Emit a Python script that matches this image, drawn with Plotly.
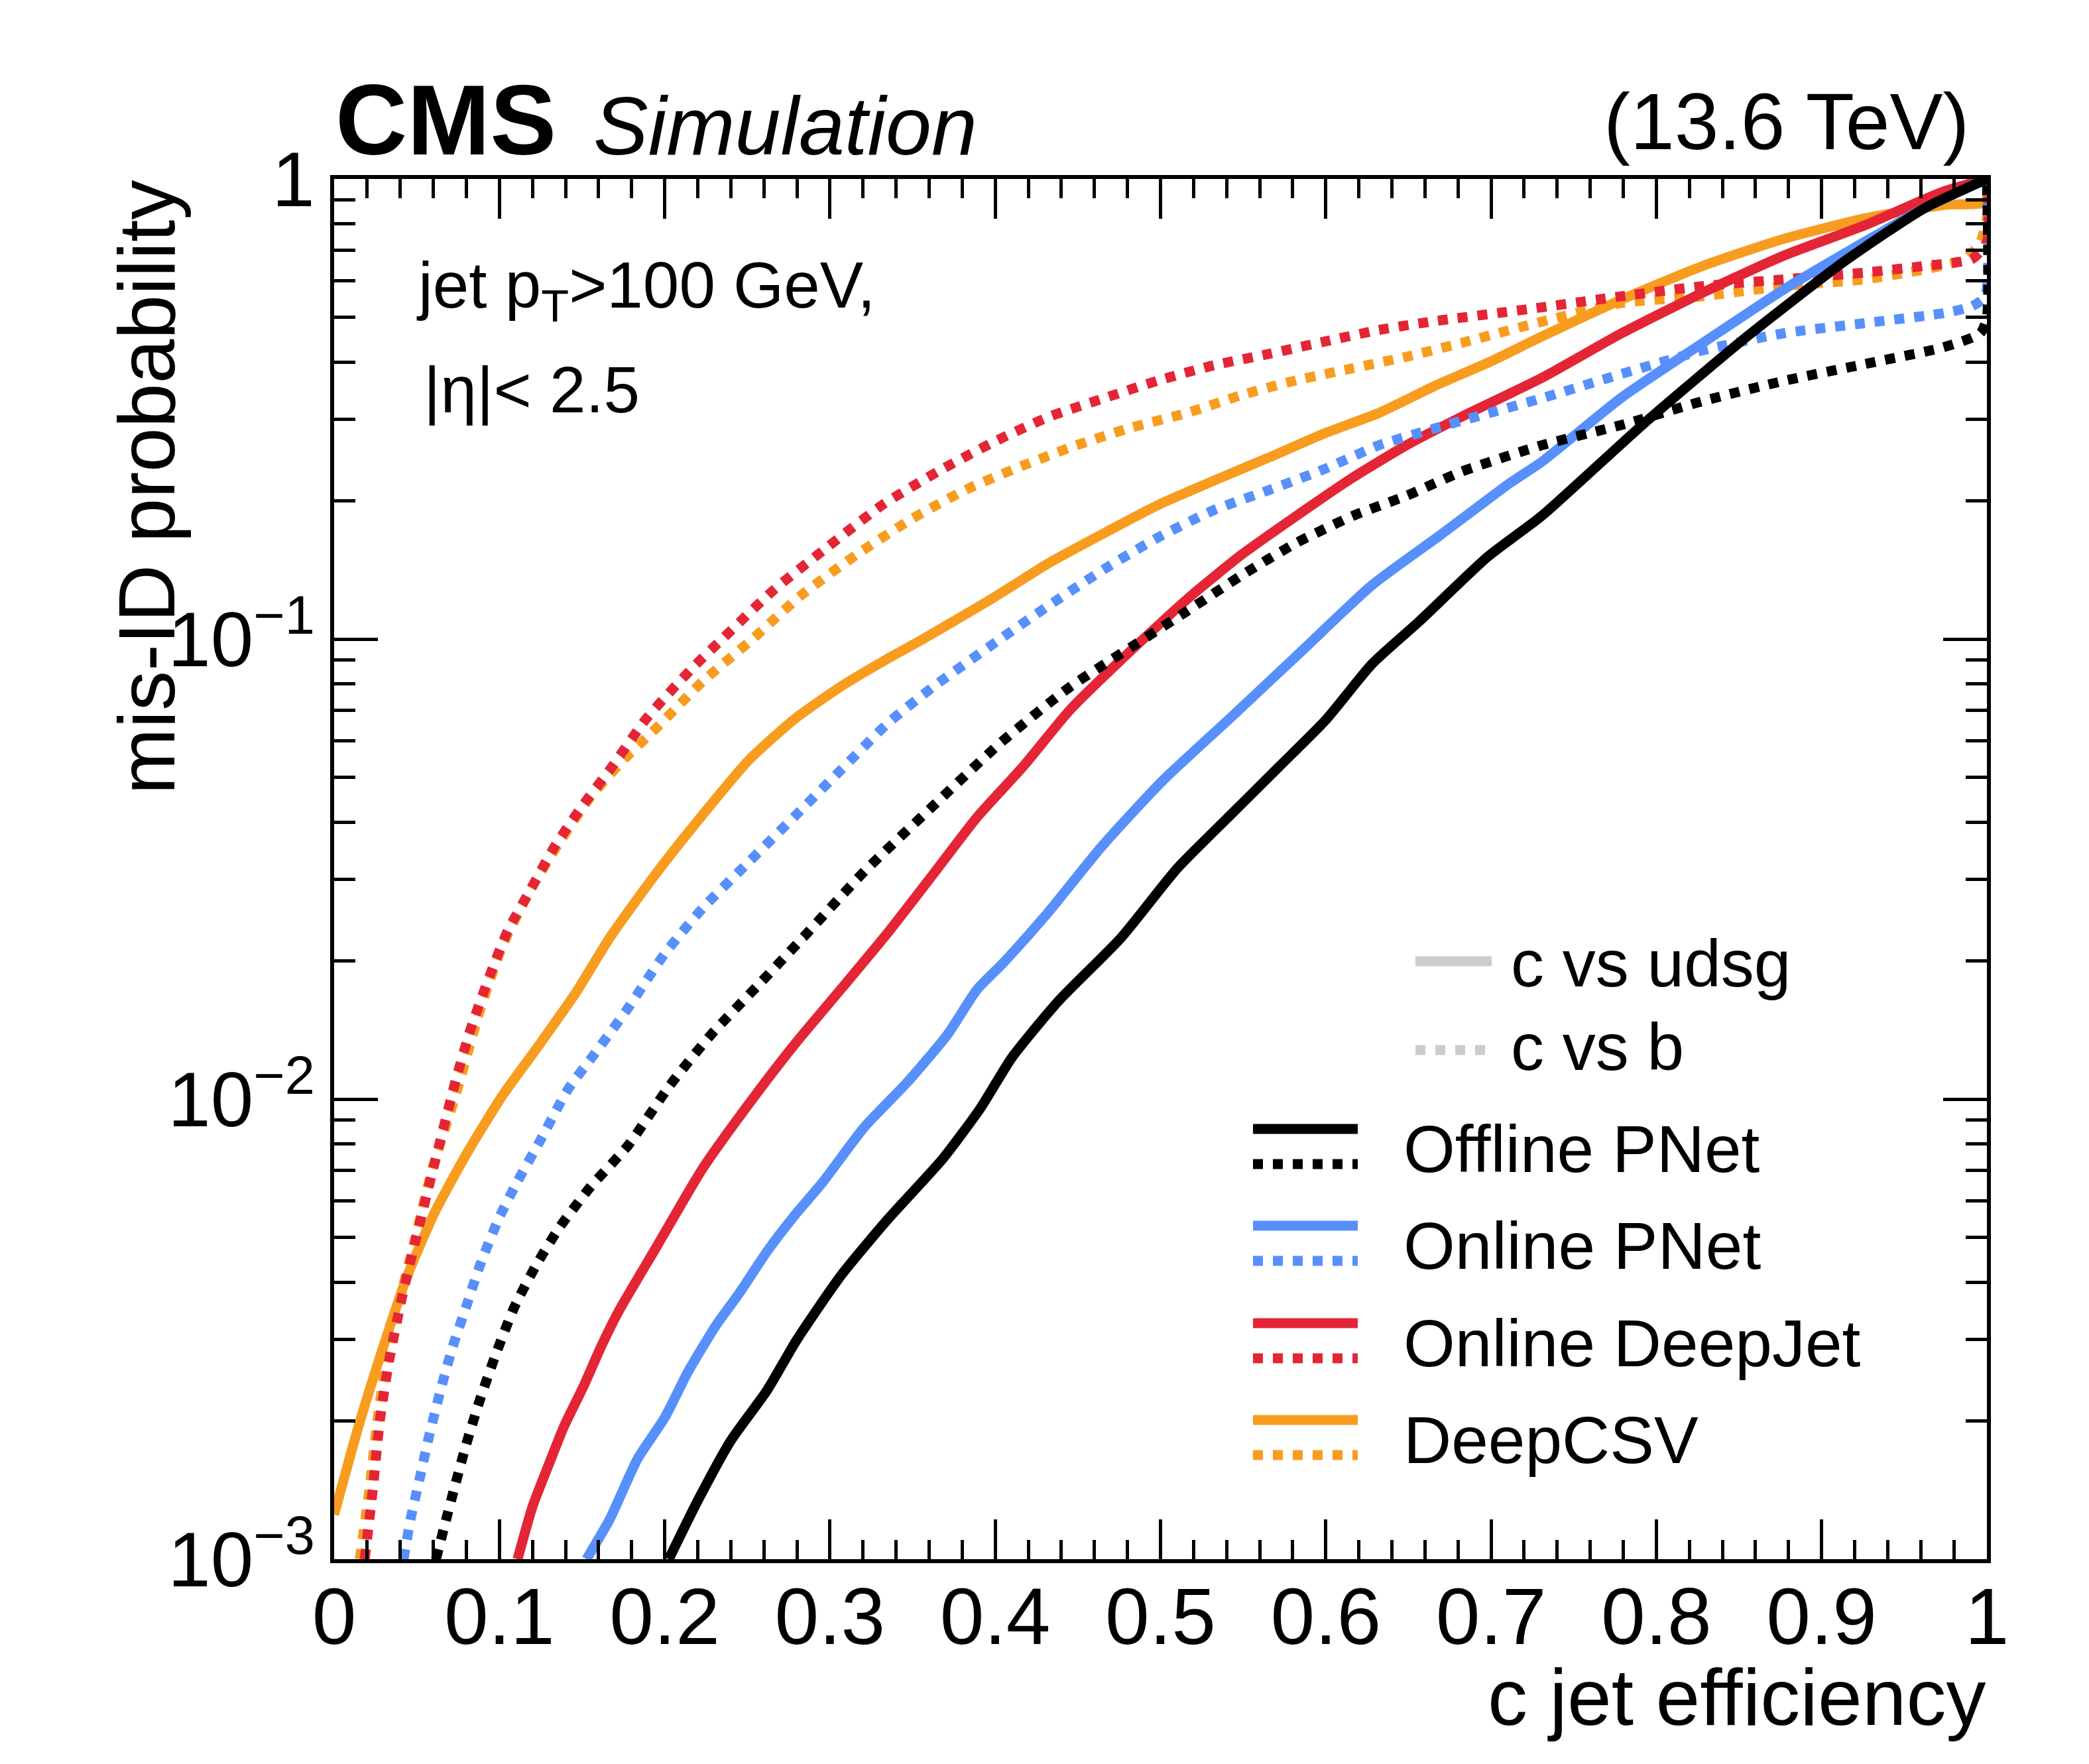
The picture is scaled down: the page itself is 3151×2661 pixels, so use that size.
import plotly.graph_objects as go

# ROC curves: c-jet efficiency vs mis-ID probability
# c vs udsg = solid, c vs b = dotted

# Offline PNet
eff_offline_udsg = [0.2025, 0.22, 0.24, 0.262, 0.28, 0.307, 0.335, 0.368, 0.391, 0.41, 0.438, 0.476, 0.51,
                    0.541, 0.572, 0.600, 0.628, 0.656, 0.698, 0.7305, 0.7915, 0.852, 0.913, 0.962, 1.0]
mis_offline_udsg = [0.001, 0.00134, 0.00181, 0.00233, 0.0030, 0.00415, 0.00548, 0.0074, 0.00955, 0.0123, 0.0163,
                    0.0224, 0.0317, 0.041, 0.0529, 0.0667, 0.0883, 0.1088, 0.151, 0.185, 0.292, 0.446, 0.659,
                    0.863, 1.0]
eff_offline_b = [0.0616, 0.067, 0.0728, 0.0798, 0.0882, 0.098, 0.109, 0.122, 0.136, 0.155, 0.178, 0.203, 0.228,
                 0.256, 0.284, 0.321, 0.361, 0.403, 0.445, 0.486, 0.516, 0.549, 0.582, 0.616, 0.649, 0.682, 0.731,
                 0.779, 0.828, 0.877, 0.926, 0.974, 0.996, 1.0, 1.0]
mis_offline_b = [0.001, 0.00119, 0.00143, 0.00177, 0.00222, 0.0028, 0.00353, 0.00434, 0.00524, 0.00644, 0.00794,
                 0.0107, 0.0138, 0.0176, 0.0225, 0.0313, 0.0429, 0.0594, 0.0786, 0.098, 0.115, 0.1375, 0.1617,
                 0.185, 0.205, 0.231, 0.264, 0.292, 0.329, 0.364, 0.396, 0.431, 0.462, 0.50, 1.0]

# Online PNet
eff_online_udsg = [0.1527, 0.1667, 0.1835, 0.200, 0.214, 0.231, 0.245, 0.262, 0.279, 0.2955, 0.321, 0.347, 0.371,
                   0.389, 0.405, 0.431, 0.465, 0.5015, 0.544, 0.586, 0.628, 0.670, 0.712, 0.7305, 0.779, 0.828,
                   0.877, 0.926, 0.962, 1.0]
mis_online_udsg = [0.001, 0.00122, 0.00165, 0.00203, 0.00255, 0.00322, 0.00378, 0.00467, 0.00561, 0.00659, 0.00871,
                   0.0109, 0.0138, 0.0173, 0.0198, 0.0252, 0.0356, 0.0493, 0.0683, 0.0946, 0.131, 0.169, 0.219,
                   0.2425, 0.335, 0.44, 0.575, 0.73, 0.863, 1.0]
eff_online_b = [0.042, 0.0462, 0.0518, 0.0574, 0.0644, 0.0714, 0.0798, 0.0882, 0.0994, 0.1106, 0.1246, 0.1415,
                0.158, 0.178, 0.200, 0.223, 0.251, 0.279, 0.307, 0.335, 0.363, 0.403, 0.432, 0.466, 0.499, 0.532,
                0.566, 0.599, 0.632, 0.666, 0.699, 0.731, 0.779, 0.828, 0.877, 0.926, 0.974, 0.991, 0.999, 1.0]
mis_online_b = [0.001, 0.00122, 0.0015, 0.00185, 0.00233, 0.00287, 0.00353, 0.00435, 0.00548, 0.00659, 0.00812,
                0.0105, 0.0126, 0.0158, 0.0207, 0.026, 0.0328, 0.0413, 0.0521, 0.0656, 0.079, 0.100, 0.118,
                0.1420, 0.1666, 0.1905, 0.211, 0.234, 0.2637, 0.287, 0.310, 0.334, 0.377, 0.424, 0.462, 0.486,
                0.511, 0.529, 0.556, 1.0]

# Online DeepJet
eff_deepjet_udsg = [0.111, 0.120, 0.130, 0.139, 0.151, 0.161, 0.172, 0.195, 0.223, 0.251, 0.279, 0.307, 0.335,
                    0.363, 0.389, 0.417, 0.445, 0.476, 0.516, 0.549, 0.582, 0.616, 0.649, 0.682, 0.731, 0.779,
                    0.828, 0.877, 0.926, 0.974, 1.0]
mis_deepjet_udsg = [0.001, 0.0013, 0.00161, 0.00194, 0.00238, 0.00287, 0.00345, 0.00477, 0.00707, 0.00977, 0.0132,
                    0.0174, 0.023, 0.031, 0.041, 0.0529, 0.070, 0.090, 0.122, 0.1525, 0.185, 0.224, 0.264, 0.304,
                    0.370, 0.462, 0.566, 0.681, 0.793, 0.94, 1.0]
eff_deepjet_b = [0.0185, 0.0235, 0.0275, 0.033, 0.041, 0.049, 0.060, 0.0742, 0.0826, 0.094, 0.105, 0.119, 0.133,
                 0.150, 0.167, 0.189, 0.217, 0.2357, 0.2657, 0.299, 0.332, 0.366, 0.399, 0.432, 0.466, 0.499,
                 0.532, 0.566, 0.599, 0.632, 0.666, 0.722, 0.779, 0.828, 0.877, 0.926, 0.962, 0.991, 1.0, 1.0]
mis_deepjet_b = [0.001, 0.00143, 0.00198, 0.00267, 0.0037, 0.00489, 0.00707, 0.0112, 0.0142, 0.0185, 0.0232,
                 0.0286, 0.0352, 0.0433, 0.0521, 0.0672, 0.0867, 0.1007, 0.1276, 0.159, 0.196, 0.232, 0.268,
                 0.3037, 0.334, 0.365, 0.3935, 0.417, 0.443, 0.4696, 0.491, 0.521, 0.556, 0.585, 0.605, 0.626,
                 0.647, 0.67, 0.73, 1.0]

# DeepCSV
eff_deepcsv_udsg = [0.0, 0.0154, 0.0294, 0.0434, 0.0602, 0.0798, 0.102, 0.1246, 0.147, 0.167, 0.195, 0.223, 0.251,
                    0.279, 0.307, 0.335, 0.352, 0.399, 0.432, 0.466, 0.499, 0.532, 0.566, 0.599, 0.632, 0.666,
                    0.699, 0.731, 0.779, 0.828, 0.877, 0.926, 0.974, 1.0, 1.0]
mis_deepcsv_udsg = [0.00125, 0.00198, 0.00287, 0.00405, 0.00561, 0.00757, 0.0102, 0.0132, 0.0172, 0.0225, 0.031,
                    0.0415, 0.0546, 0.0672, 0.079, 0.0907, 0.098, 0.123, 0.146, 0.170, 0.196, 0.2207, 0.2485,
                    0.2797, 0.310, 0.355, 0.400, 0.455, 0.547, 0.647, 0.741, 0.821, 0.878, 0.893, 1.0]
eff_deepcsv_b = [0.0155, 0.0215, 0.026, 0.0315, 0.040, 0.0485, 0.0595, 0.0735, 0.088, 0.102, 0.119, 0.136, 0.155,
                 0.175, 0.195, 0.223, 0.252, 0.282, 0.316, 0.349, 0.382, 0.416, 0.449, 0.482, 0.516, 0.549, 0.582,
                 0.616, 0.649, 0.682, 0.731, 0.779, 0.828, 0.877, 0.926, 0.962, 0.987, 0.996, 1.0, 1.0]
mis_deepcsv_b = [0.001, 0.00143, 0.00198, 0.00267, 0.0037, 0.00489, 0.00707, 0.0102, 0.0155, 0.0216, 0.0286,
                 0.036, 0.0453, 0.0546, 0.0641, 0.0809, 0.0992, 0.124, 0.1525, 0.182, 0.211, 0.2377, 0.2637, 0.288,
                 0.310, 0.339, 0.365, 0.3876, 0.411, 0.44, 0.49, 0.5375, 0.556, 0.585, 0.605, 0.636, 0.67, 0.729,
                 0.82, 1.0]

taggers = ["Offline PNet", "Online PNet", "Online DeepJet", "DeepCSV"]
colors = {"Offline PNet": "#000000", "Online PNet": "#5790fc",
          "Online DeepJet": "#e42536", "DeepCSV": "#f89c20"}

curves = {
    "Offline PNet": (eff_offline_udsg, mis_offline_udsg, eff_offline_b, mis_offline_b),
    "Online PNet": (eff_online_udsg, mis_online_udsg, eff_online_b, mis_online_b),
    "Online DeepJet": (eff_deepjet_udsg, mis_deepjet_udsg, eff_deepjet_b, mis_deepjet_b),
    "DeepCSV": (eff_deepcsv_udsg, mis_deepcsv_udsg, eff_deepcsv_b, mis_deepcsv_b),
}

FONT = "Liberation Sans, Arial, Helvetica, sans-serif"
LW = 15

# plot area in pixels (canvas 3151 x 2661)
W, H = 3151, 2661
L, R, T, B = 504, 154, 270, 309
PW, PH = W - L - R, H - T - B


def px(fx):
    return (fx - L) / PW


def py(fy):
    return (H - B - fy) / PH


fig = go.Figure()

# draw order: orange, red, blue, black on top
for name in ["DeepCSV", "Online DeepJet", "Online PNet", "Offline PNet"]:
    ex_u, mis_u, ex_b, mis_b = curves[name]
    fig.add_trace(go.Scatter(x=ex_u, y=mis_u, mode="lines", name=name + " c vs udsg",
                             line=dict(color=colors[name], width=LW, shape="spline", smoothing=0.6),
                             showlegend=False))
    fig.add_trace(go.Scatter(x=ex_b, y=mis_b, mode="lines", name=name + " c vs b",
                             line=dict(color=colors[name], width=LW, dash="dot", shape="spline", smoothing=0.6),
                             showlegend=False))

shapes = []
annotations = []

# ---- legend drawn by hand (two line samples per tagger) ----
gray = "#cccccc"
shapes.append(dict(type="line", xref="paper", yref="paper", x0=px(2135), x1=px(2250), y0=py(1450), y1=py(1450),
                   line=dict(color=gray, width=LW)))
shapes.append(dict(type="line", xref="paper", yref="paper", x0=px(2135), x1=px(2250), y0=py(1584), y1=py(1584),
                   line=dict(color=gray, width=LW, dash="dot")))
annotations.append(dict(text="c vs udsg", x=px(2277), y=py(1453), xanchor="left", yanchor="middle"))
annotations.append(dict(text="c vs b", x=px(2277), y=py(1579), xanchor="left", yanchor="middle"))

leg_rows = [1703, 1849, 1996, 2142]
for name, y_solid in zip(taggers, leg_rows):
    shapes.append(dict(type="line", xref="paper", yref="paper", x0=px(1890), x1=px(2048),
                       y0=py(y_solid), y1=py(y_solid), line=dict(color=colors[name], width=LW)))
    shapes.append(dict(type="line", xref="paper", yref="paper", x0=px(1890), x1=px(2048),
                       y0=py(y_solid + 53), y1=py(y_solid + 53),
                       line=dict(color=colors[name], width=LW, dash="dot")))
    annotations.append(dict(text=name, x=px(2115), y=py(y_solid + 30), xanchor="left", yanchor="middle"))

for a in annotations:
    a.update(xref="paper", yref="paper", showarrow=False, font=dict(family=FONT, size=100, color="black"))

# ---- header and labels ----
annotations += [
    dict(text="<b>CMS</b>", x=0.0, y=py(181), xanchor="left", yanchor="middle",
         font=dict(family=FONT, size=150, color="black")),
    dict(text="<i>Simulation</i>", x=px(893), y=py(190), xanchor="left", yanchor="middle",
         font=dict(family=FONT, size=124, color="black")),
    dict(text="(13.6 TeV)", x=px(2972), y=py(183), xanchor="right", yanchor="middle",
         font=dict(family=FONT, size=120, color="black")),
    dict(text="jet p<sub>T</sub>&gt;100 GeV,", x=px(626), y=py(437), xanchor="left", yanchor="middle",
         font=dict(family=FONT, size=98, color="black")),
    dict(text="|η|&lt; 2.5", x=px(637), y=py(588), xanchor="left", yanchor="middle",
         font=dict(family=FONT, size=98, color="black")),
    dict(text="mis-ID probability", x=px(220), y=1.0, xanchor="center", yanchor="top", textangle=-90,
         font=dict(family=FONT, size=120, color="black")),
    dict(text="c jet efficiency", x=1.0, y=py(2560), xanchor="right", yanchor="middle",
         font=dict(family=FONT, size=120, color="black")),
]
for a in annotations:
    a.setdefault("xref", "paper")
    a.setdefault("yref", "paper")
    a.setdefault("showarrow", False)

minor_y = [k * 10.0 ** e for e in (-3, -2, -1) for k in range(2, 10)]

fig.update_layout(
    width=W, height=H,
    margin=dict(l=L, r=R, t=T, b=B),
    paper_bgcolor="white", plot_bgcolor="white",
    showlegend=False,
    shapes=shapes,
    annotations=annotations,
    xaxis=dict(
        range=[0, 1], dtick=0.1, tick0=0,
        showgrid=False, zeroline=False,
        showline=True, linecolor="black", linewidth=6, mirror="ticks",
        ticks="inside", ticklen=60, tickwidth=5, tickcolor="black",
        minor=dict(dtick=0.02, ticks="inside", ticklen=29, tickwidth=5, tickcolor="black", showgrid=False),
        tickfont=dict(family=FONT, size=120, color="black"),
        ticklabelstandoff=-22,
    ),
    yaxis=dict(
        type="log", range=[-3, 0],
        tickvals=[0.001, 0.01, 0.1, 1],
        ticktext=["10<sup>−3</sup>", "10<sup>−2</sup>", "10<sup>−1</sup>", "1"],
        showgrid=False, zeroline=False,
        showline=True, linecolor="black", linewidth=6, mirror="ticks",
        ticks="inside", ticklen=66, tickwidth=5, tickcolor="black",
        minor=dict(tickmode="array", tickvals=minor_y, ticks="inside", ticklen=32, tickwidth=5,
                   tickcolor="black", showgrid=False),
        tickfont=dict(family=FONT, size=116, color="black"),
    ),
)

fig.write_html("out.html", config={"displayModeBar": False},
               post_script="document.body.style.margin='0';")
